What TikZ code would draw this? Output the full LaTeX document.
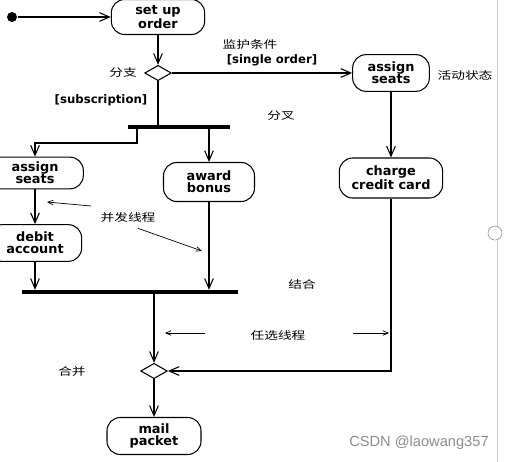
\documentclass[tikz,border=0pt]{standalone}
\usepackage{fontspec}
\setmainfont{DejaVu Sans}
\newfontfamily\cjk[FakeStretch=1.3]{Noto Sans CJK SC}
\newfontfamily\wmfont{Liberation Sans}
\usetikzlibrary{positioning, arrows.meta, shapes.geometric}
\definecolor{wmgray}{rgb}{0.55,0.55,0.55}
\tikzset{
    >={Straight Barb[length=3mm, width=2.6mm]}, % open V heads
    act/.style={draw, rectangle, rounded corners=4mm, align=center,
        font=\fontsize{11}{10.5}\selectfont\bfseries, inner sep=0pt}, % activity states
    choice/.style={draw, diamond, minimum width=8mm, minimum height=4.6mm, inner sep=0pt},
    bar/.style={fill=black, inner sep=0pt, minimum height=1mm}, % fork / join
    note/.style={font=\cjk\fontsize{9}{9}\selectfont},
    guard/.style={font=\fontsize{10}{10}\selectfont\bfseries},
    hint/.style={->, >={Straight Barb[length=1.6mm, width=1.4mm]}, line width=0.6pt},
}

\begin{document}
\begin{tikzpicture}[x=0.3mm, y=-0.3mm, line width=0.9pt]
    \useasboundingbox (0,0) rectangle (508,462);

    \node[circle, fill, minimum size=3mm, inner sep=0pt] (start) at (12,17) {};
    \node[act, minimum width=28mm, minimum height=10.5mm] (setup) at (158,17) {set up\\order};
    \node[choice] (br) at (158,73) {};
    \node[act, minimum width=23mm, minimum height=11mm] (seatR) at (391,73) {assign\\seats};
    \node[act, minimum width=31mm, minimum height=12mm] (charge) at (391,178) {charge\\credit card};
    \node[bar, minimum width=30.6mm] (fork) at (179,127) {};
    \coordinate (f1) at (137,127);
    \node[act, minimum width=29mm, minimum height=9.5mm] (seatL) at (35,173) {assign\\seats};
    \node[act, minimum width=28mm, minimum height=11mm] (debit) at (35,243) {debit\\account};
    \node[act, minimum width=27.3mm, minimum height=11.7mm] (award) at (209,182) {award\\bonus};
    \node[bar, minimum width=64.5mm] (join) at (130,292) {};
    \node[choice] (mrg) at (154,371) {};
    \node[act, minimum width=28.2mm, minimum height=11.1mm] (mail) at (154,436) {mail\\packet};

    % labels
    \node[note] (lbranch) at (123,73) {分支};
    \node[note] (lguard) at (250,44) {监护条件};
    \node[guard] (lsingle) at (272,60) {[single order]};
    \node[guard] (lsub) at (101,100) {[subscription]};
    \node[note] (lact) at (465,75) {活动状态};
    \node[note] (lfork) at (281,116) {分叉};
    \node[note] (lpar) at (128,218) {并发线程};
    \node[note] (ljoin) at (302,284) {结合};
    \node[note] (lopt) at (278,335) {任选线程};
    \node[note] (lmerge) at (72,372) {合并};
    \node[font=\wmfont\fontsize{12.5}{12.5}\selectfont, text=wmgray] (wm) at (419,443) {CSDN @laowang357};

    \coordinate (c1) at (47,202);
    \coordinate (c2) at (202,251);
    \coordinate (o1) at (165,333);
    \coordinate (o2) at (389,333);

    % flows
    \draw[->] (start) -- (setup);
    \draw[->] (setup) -- (br);
    \draw[->] (br) -- (seatR);
    \draw (br) -- (br |- fork.north);
    \draw[->] (seatR) -- (charge);
    \draw[->] (f1) -- ++(0,16) -| (seatL);
    \draw[->] (fork.south -| award) -- (award);
    \draw[->] (seatL) -- (debit);
    \draw[->] (debit) -- (debit |- join.north);
    \draw[->] (award) -- (award |- join.north);
    \draw[->] (join.south -| mrg) -- (mrg);
    \draw[->] (charge) |- (mrg);
    \draw[->] (mrg) -- (mail);

    % pointers to the threads
    \draw[hint] ([shift={(-5,-12)}]lpar.west) -- (c1);
    \draw[hint] ([shift={(10,1)}]lpar.south) -- (c2);
    \draw[hint] ([shift={(-41,-2)}]lopt.west) -- (o1);
    \draw[hint] ([shift={(43,-2)}]lopt.east) -- (o2);

    % window edge
    \draw[black!20, line width=0.6pt] (497,0) -- (497,462);
    \draw[black!45, fill=white, line width=0.5pt] (495,233) circle (7);
\end{tikzpicture}
\end{document}
